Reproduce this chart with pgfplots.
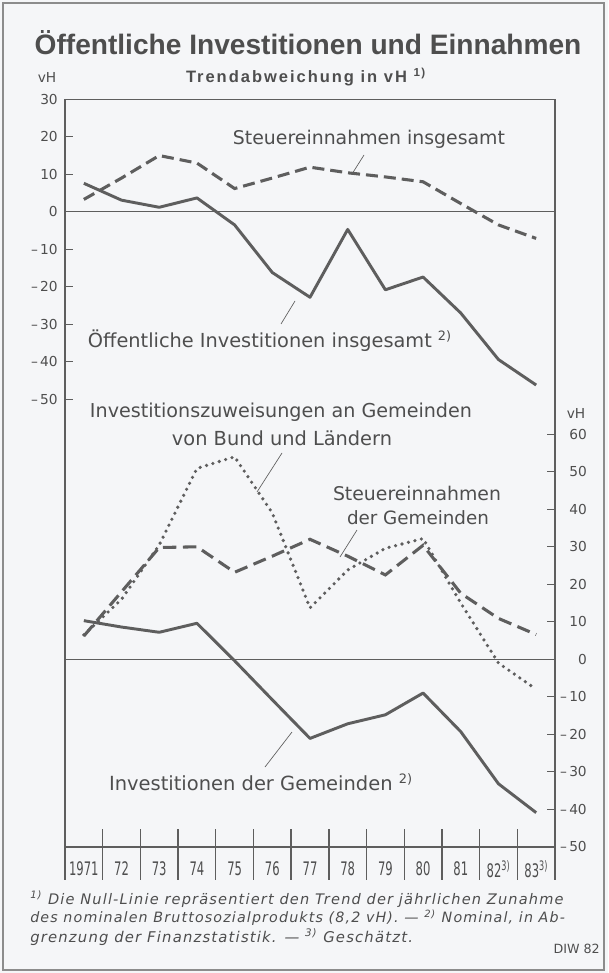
\documentclass[border=0pt]{standalone}
\usepackage{pgfplots}
\pgfplotsset{compat=1.18}
\usepackage{fontspec}
\setmainfont{DejaVu Sans}
\newfontfamily\boldfam{Liberation Sans}
\definecolor{ink}{HTML}{5E5E5E}
\definecolor{txt}{HTML}{4E4E4E}
\definecolor{bg}{HTML}{F5F6F8}
\definecolor{frm}{HTML}{8C8C8C}
\newcommand{\fitw}[2]{\resizebox{#1}{!}{#2}}
\newcommand{\yr}[1]{\scalebox{0.62}[1]{#1}}
\newcommand{\fnfont}{\itshape\fontsize{10}{12}\selectfont\addfontfeature{LetterSpace=8}}
\pgfplotsset{
  panel/.style={
    scale only axis, width=367.5pt, height=585.5pt,
    at={(48.75pt,-74.475pt)}, anchor=north west,
    xmin=0.5, xmax=13.5,
    axis line style={draw=none},
    tick style={ink, line width=0.9pt},
    tick align=inside,
    major tick length=6pt,
    clip=false,
    /pgf/number format/assume math mode=true,
    ticklabel style={text=txt, font=\fontsize{10.3}{12}\selectfont, inner sep=0pt},
  }
}
\begin{document}
\begin{tikzpicture}
\begin{scope}[x=0.75pt,y=-0.75pt]
\fill[bg] (0,0) rectangle (608,973);
\draw[frm, line width=1pt] (3,3) rectangle (604,970);
% title
\node[txt] at (308,43) {\fitw{410pt}{\boldfam\bfseries\fontsize{20}{24}\selectfont Öffentliche Investitionen und Einnahmen}};
\node[txt] at (306,77) {\fitw{180pt}{\boldfam\bfseries\fontsize{10}{12}\selectfont\addfontfeature{LetterSpace=12}Trendabweichung in vH \textsuperscript{1)}}};
\node[txt,font=\fontsize{10.3}{12}\selectfont] at (47,77) {vH};
\node[txt,font=\fontsize{10.3}{12}\selectfont] at (576,413) {vH};
% annotations
\node[txt] at (369,139) {\fitw{204pt}{\fontsize{12}{14}\selectfont Steuereinnahmen insgesamt}};
\node[txt] at (270,341) {\fitw{273pt}{\fontsize{12}{14}\selectfont Öffentliche Investitionen insgesamt \textsuperscript{2)}}};
\node[txt] at (281,412) {\fitw{286.5pt}{\fontsize{12}{14}\selectfont Investitionszuweisungen an Gemeinden}};
\node[txt] at (282,438) {\fitw{165pt}{\fontsize{12}{14}\selectfont von Bund und Ländern}};
\node[txt] at (417,493) {\fitw{126pt}{\fontsize{12}{14}\selectfont Steuereinnahmen}};
\node[txt] at (418,518) {\fitw{106.5pt}{\fontsize{12}{14}\selectfont der Gemeinden}};
\node[txt] at (261,782) {\fitw{228pt}{\fontsize{12}{14}\selectfont Investitionen der Gemeinden \textsuperscript{2)}}};
% leader lines
\draw[ink, line width=0.5pt] (364,155) -- (352,174);
\draw[ink, line width=0.5pt] (281,324) -- (295,301);
\draw[ink, line width=0.5pt] (282,453) -- (257,492);
\draw[ink, line width=0.5pt] (357,530) -- (340,557);
\draw[ink, line width=0.5pt] (292,732) -- (265,767);
% footnotes
\node[txt, anchor=west, inner sep=0pt] at (30,899) {\fitw{400pt}{\fnfont \textsuperscript{1)} Die Null-Linie repräsentiert den Trend der jährlichen Zunahme}};
\node[txt, anchor=west, inner sep=0pt] at (30,918) {\fitw{401pt}{\fnfont des nominalen Bruttosozialprodukts (8,2 vH). — \textsuperscript{2)} Nominal, in Ab-}};
\node[txt, anchor=west, inner sep=0pt] at (30,937) {\fitw{287pt}{\fnfont grenzung der Finanzstatistik. — \textsuperscript{3)} Geschätzt.}};
\node[txt, anchor=east, inner sep=0pt, font=\fontsize{9.5}{11}\selectfont] at (600,949) {DIW 82};
\end{scope}

% ---------------- upper panel
\begin{axis}[panel, ymin=-178.19, ymax=30,
  ytick={-50,-40,-30,-20,-10,0,10,20,30},
  yticklabels={\textendash\,50,\textendash\,40,\textendash\,30,\textendash\,20,\textendash\,10,0,10,20,30},
  ytick pos=left, xtick=\empty,
  yticklabel style={anchor=east, xshift=-5.25pt}]
\draw[ink, line width=1.1pt] (rel axis cs:0,0) -- (rel axis cs:0,1) -- (rel axis cs:1,1) -- (rel axis cs:1,0);
\draw[ink, line width=0.9pt] (axis cs:0.5,0) -- (axis cs:13.5,0);
% Oeffentliche Investitionen insgesamt
\addplot[ink, line width=2.2pt, line join=round] coordinates {
(1,7.6) (2,3.1) (3,1.2) (4,3.7) (5,-3.5) (6,-16.2) (7,-22.8) (8,-4.7) (9,-20.8) (10,-17.4) (11,-27) (12,-39.4) (13,-46.2)};
% Steuereinnahmen insgesamt
\addplot[ink, line width=2.3pt, dash pattern=on 9pt off 4.5pt] coordinates {
(1,3.3) (2,9.0) (3,15.0) (4,13.0) (5,6.2) (6,9.0) (7,11.9) (8,10.4) (9,9.3) (10,8.0) (11,2.2) (12,-3.5) (13,-7.1)};
\end{axis}

% ---------------- lower panel
\begin{axis}[panel, ymin=-58.85, ymax=149.333,
  ytick={-50,-40,-30,-20,-10,0,10,20,30,40,50,60},
  yticklabels={\textendash\,50,\textendash\,40,\textendash\,30,\textendash\,20,\textendash\,10,0,10,20,30,40,50,60},
  ytick pos=right, yticklabel pos=right, xtick=\empty,
  yticklabel style={anchor=east, xshift=24pt}]
\draw[ink, line width=0.9pt] (axis cs:0.5,0) -- (axis cs:13.5,0);
\draw[ink, line width=1.1pt] (axis cs:0.5,-50) -- (axis cs:13.5,-50);
\pgfplotsinvokeforeach{1.5,2.5,3.5,4.5,5.5,6.5,7.5,8.5,9.5,10.5,11.5,12.5}{
  \draw[ink, line width=1pt] (axis cs:#1,-45.3) -- (axis cs:#1,-58.85);
}
\node[txt, font=\fontsize{14}{16}\selectfont] at (axis cs:1,-55.9) {\yr{1971}};
\node[txt, font=\fontsize{14}{16}\selectfont] at (axis cs:2,-55.9) {\yr{72}};
\node[txt, font=\fontsize{14}{16}\selectfont] at (axis cs:3,-55.9) {\yr{73}};
\node[txt, font=\fontsize{14}{16}\selectfont] at (axis cs:4,-55.9) {\yr{74}};
\node[txt, font=\fontsize{14}{16}\selectfont] at (axis cs:5,-55.9) {\yr{75}};
\node[txt, font=\fontsize{14}{16}\selectfont] at (axis cs:6,-55.9) {\yr{76}};
\node[txt, font=\fontsize{14}{16}\selectfont] at (axis cs:7,-55.9) {\yr{77}};
\node[txt, font=\fontsize{14}{16}\selectfont] at (axis cs:8,-55.9) {\yr{78}};
\node[txt, font=\fontsize{14}{16}\selectfont] at (axis cs:9,-55.9) {\yr{79}};
\node[txt, font=\fontsize{14}{16}\selectfont] at (axis cs:10,-55.9) {\yr{80}};
\node[txt, font=\fontsize{14}{16}\selectfont] at (axis cs:11,-55.9) {\yr{81}};
\node[txt, font=\fontsize{14}{16}\selectfont] at (axis cs:12,-55.9) {\yr{82\textsuperscript{3)}}};
\node[txt, font=\fontsize{14}{16}\selectfont] at (axis cs:13,-55.9) {\yr{83\textsuperscript{3)}}};
% Investitionszuweisungen (dotted)
\addplot[ink, line width=2.7pt, line cap=round, dash pattern=on 0pt off 5pt] coordinates {
(1,6.5) (2,16) (3,30.5) (4,50.9) (5,54.0) (6,39) (7,13.7) (8,23.8) (9,29.6) (10,32.2) (11,15) (12,-1) (13,-8)};
% Steuereinnahmen der Gemeinden (dashed)
\addplot[ink, line width=2.3pt, dash pattern=on 10pt off 5pt] coordinates {
(1,6.2) (2,18) (3,29.8) (4,30.0) (5,23.2) (6,27.5) (7,32.0) (8,27.5) (9,22.5) (10,30.4) (11,17.6) (12,10.9) (13,6.6)};
% Investitionen der Gemeinden (solid)
\addplot[ink, line width=2.2pt, line join=round] coordinates {
(1,10.3) (2,8.6) (3,7.2) (4,9.6) (5,-0.4) (6,-10.8) (7,-21.1) (8,-17.2) (9,-14.8) (10,-9.0) (11,-19.3) (12,-33.2) (13,-40.9)};
\end{axis}
\end{tikzpicture}
\end{document}
